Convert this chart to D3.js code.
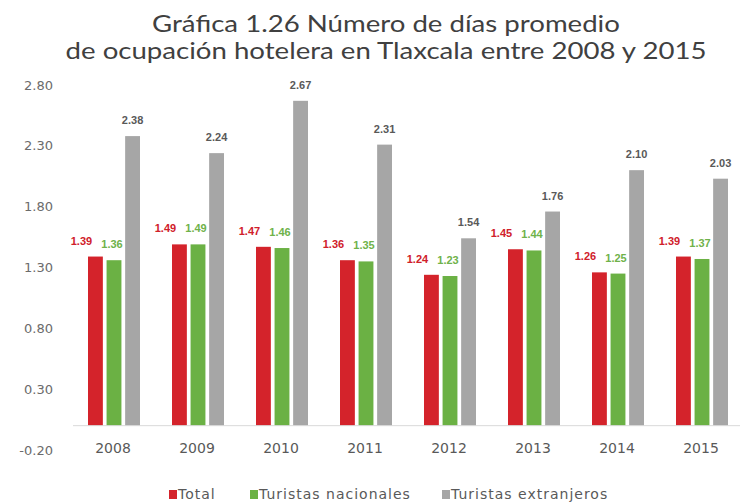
<!DOCTYPE html>
<html>
<head>
<meta charset="utf-8">
<script src="https://cdn.jsdelivr.net/npm/d3@7/dist/d3.min.js"></script>
<style>
  html, body { margin: 0; padding: 0; background: #fff; }
  svg { display: block; }
</style>
</head>
<body>
<div id="chart"></div>
<script>
(function () {
  'use strict';

  // Data
  var YEARS = ['2008', '2009', '2010', '2011', '2012', '2013', '2014', '2015'];
  var SERIES = ['Total', 'Turistas nacionales', 'Turistas extranjeros'];
  var TOTAL =       [1.39, 1.49, 1.47, 1.36, 1.24, 1.45, 1.26, 1.39];
  var NACIONALES =  [1.36, 1.49, 1.46, 1.35, 1.23, 1.44, 1.25, 1.37];
  var EXTRANJEROS = [2.38, 2.24, 2.67, 2.31, 1.54, 1.76, 2.10, 2.03];
  var Y_TICKS = [-0.20, 0.30, 0.80, 1.30, 1.80, 2.30, 2.80];

  var COLORS = ['#d4232b', '#6bb144', '#a6a6a6'];
  var LABEL_COLORS = ['#d0202a', '#6fb24a', '#595959'];
  var LABEL_DX = [-14, -2, 0];

  var W = 740, H = 502;
  var VALUES = [TOTAL, NACIONALES, EXTRANJEROS];
  var fmt = function (v) { return d3.format('.2f')(v).replace('\u2212', '-'); };

  var svg = d3.select('#chart').append('svg')
    .attr('width', W).attr('height', H);

  // Title (source image is a little stretched horizontally)
  var title = svg.append('g')
    .attr('transform', 'translate(386,0) scale(1.15,1)')
    .append('text')
    .attr('text-anchor', 'middle')
    .attr('font-family', 'Lato, sans-serif')
    .attr('font-size', '24px')
    .attr('fill', '#404040');
  title.append('tspan').attr('x', 0).attr('y', 32).text('Gráfica 1.26 Número de días promedio');
  title.append('tspan').attr('x', 0).attr('y', 59).text('de ocupación hotelera en Tlaxcala entre 2008 y 2015');

  var y = d3.scaleLinear().domain([-0.2, 2.8]).range([450, 85]);
  var x0 = d3.scaleBand().domain(YEARS).range([73, 745]);
  var x1 = d3.scaleBand().domain(d3.range(SERIES.length)).range([15, 67]).paddingInner(0.2);

  // y tick labels (no axis line, no grid)
  svg.append('g').selectAll('text').data(Y_TICKS).enter()
    .append('text')
    .attr('x', 53)
    .attr('y', function (d) { return y(d); })
    .attr('dy', '0.35em')
    .attr('text-anchor', 'end')
    .attr('font-family', 'DejaVu Sans, sans-serif')
    .attr('font-size', '13px')
    .attr('fill', '#6b6b6b')
    .text(fmt);

  // Bars
  var groups = svg.append('g').selectAll('g').data(YEARS).enter()
    .append('g')
    .attr('transform', function (d) { return 'translate(' + x0(d) + ',0)'; });

  function rows(d, i) {
    return VALUES.map(function (v, s) { return { s: s, v: v[i] }; });
  }

  groups.selectAll('rect').data(rows).enter().append('rect')
    .attr('x', function (d) { return x1(d.s); })
    .attr('width', x1.bandwidth())
    .attr('y', function (d) { return y(d.v); })
    .attr('height', function (d) { return y(0) - y(d.v); })
    .attr('fill', function (d) { return COLORS[d.s]; });

  groups.selectAll('text.val').data(rows).enter().append('text')
    .attr('class', 'val')
    .attr('x', function (d) { return x1(d.s) + x1.bandwidth() / 2 + LABEL_DX[d.s]; })
    .attr('y', function (d) { return y(d.v) - 12; })
    .attr('text-anchor', 'middle')
    .attr('font-family', '"Liberation Sans Narrow", "Arial Narrow", sans-serif')
    .attr('font-weight', 'bold')
    .attr('font-size', '11px')
    .attr('fill', function (d) { return LABEL_COLORS[d.s]; })
    .text(function (d) { return fmt(d.v); });

  // Category axis line at zero
  svg.append('line')
    .attr('x1', 73).attr('x2', W)
    .attr('y1', y(0)).attr('y2', y(0))
    .attr('stroke', '#d9d9d9').attr('stroke-width', 1);

  // Year labels
  svg.append('g').selectAll('text').data(YEARS).enter()
    .append('text')
    .attr('x', function (d) { return x0(d) + x0.bandwidth() / 2 - 2; })
    .attr('y', 448)
    .attr('dy', '0.35em')
    .attr('text-anchor', 'middle')
    .attr('font-family', 'DejaVu Sans, sans-serif')
    .attr('font-size', '14px')
    .attr('fill', '#595959')
    .text(function (d) { return d; });

  // Legend
  var LEGEND_X = [169, 250, 442];
  var legend = svg.append('g').selectAll('g').data(SERIES).enter()
    .append('g')
    .attr('transform', function (d, i) { return 'translate(' + LEGEND_X[i] + ',494)'; });
  legend.append('rect')
    .attr('x', 0).attr('y', -4).attr('width', 8).attr('height', 9)
    .attr('fill', function (d, i) { return COLORS[i]; });
  legend.append('text')
    .attr('x', 9)
    .attr('dy', '0.35em')
    .attr('font-family', 'DejaVu Sans, sans-serif')
    .attr('font-size', '14px')
    .attr('letter-spacing', '1px')
    .attr('fill', '#595959')
    .text(function (d) { return d; });
})();
</script>
</body>
</html>
